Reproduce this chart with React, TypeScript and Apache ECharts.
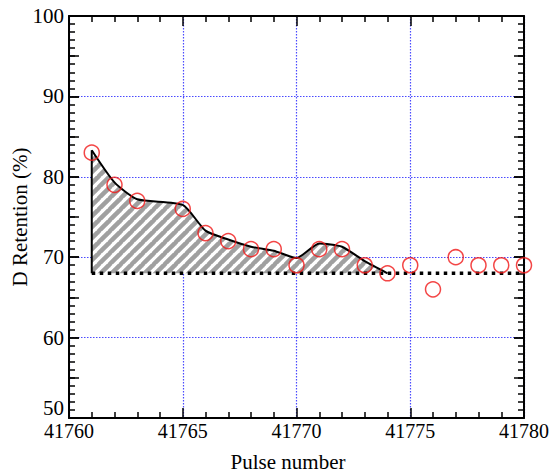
import React, { useEffect, useRef } from "react";
import * as echarts from "echarts";

const pulses = [41761, 41762, 41763, 41765, 41766, 41767, 41768, 41769, 41770, 41771, 41772, 41773, 41774, 41775, 41776, 41777, 41778, 41779, 41780];
const retention = [83, 79, 77, 76, 73, 72, 71, 71, 69, 71, 71, 69, 68, 69, 66, 70, 69, 69, 69];

const fitPulses = [41761, 41762, 41763, 41765, 41766, 41767, 41768, 41769, 41770, 41771, 41772, 41773, 41774];
const fitValues = [83.3, 79.3, 77.2, 76.5, 73.3, 72.2, 71.3, 70.8, 69.9, 71.7, 71.3, 69.5, 68];

const baselineValue = 68;
const baselineRange = [41761, 41780];

const xTicks = { min: 41760, max: 41780, interval: 5 };
const yTicks = { min: 50, max: 100, interval: 10 };

function makeHatch(): HTMLCanvasElement {
  const s = 11;
  const c = document.createElement("canvas");
  c.width = s;
  c.height = s;
  const ctx = c.getContext("2d")!;
  ctx.fillStyle = "#ffffff";
  ctx.fillRect(0, 0, s, s);
  ctx.strokeStyle = "#a0a0a0";
  ctx.lineWidth = 4.5;
  for (const k of [-s, 0, s]) {
    ctx.beginPath();
    ctx.moveTo(k - 1, s + 1);
    ctx.lineTo(k + s + 1, -1);
    ctx.stroke();
  }
  return c;
}

export default function App() {
  const ref = useRef<HTMLDivElement>(null);
  useEffect(() => {
    const chart = echarts.init(ref.current!, null, { renderer: "svg" });
    const font = "Liberation Serif";
    const grid = "#4a4aff";
    const tickCommon = {
      axisLine: { show: true, onZero: false, lineStyle: { color: "#000", width: 2 } },
      axisTick: { show: true, inside: true, length: 10, lineStyle: { color: "#000", width: 1.5 } },
    };
    const option: any = {
      animation: false,
      backgroundColor: "#fff",
      grid: { left: 69, right: 28, top: 16, bottom: 56, containLabel: false },
      xAxis: [
        {
          type: "value",
          position: "bottom",
          ...xTicks,
          ...tickCommon,
          minorTick: { show: true, splitNumber: 5, length: 6, lineStyle: { color: "#000", width: 1.5 } },
          splitLine: { show: true, lineStyle: { color: grid, type: [1.5, 1.5], width: 1.2 } },
          axisLabel: { color: "#000", fontFamily: font, fontSize: 20, margin: 3, formatter: (v: number) => String(v) },
        },
        {
          type: "value",
          position: "top",
          ...xTicks,
          ...tickCommon,
          minorTick: { show: true, splitNumber: 5, length: 6, lineStyle: { color: "#000", width: 1.5 } },
          splitLine: { show: false },
          axisLabel: { show: false },
        },
      ],
      yAxis: [
        {
          type: "value",
          position: "left",
          ...yTicks,
          ...tickCommon,
          minorTick: { show: true, splitNumber: 10, length: 6, lineStyle: { color: "#000", width: 1.5 } },
          splitLine: { show: true, lineStyle: { color: grid, type: [1.5, 1.5], width: 1.2 } },
          axisLabel: {
            color: "#000",
            fontFamily: font,
            fontSize: 21,
            margin: 5,
            verticalAlignMinLabel: "bottom",
          },
        },
        {
          type: "value",
          position: "left",
          min: 50,
          max: 100,
          interval: 5,
          axisLine: { show: false },
          axisTick: { show: true, inside: true, length: 10, lineStyle: { color: "#000", width: 1.5 } },
          splitLine: { show: false },
          axisLabel: { show: false },
        },
        {
          type: "value",
          position: "right",
          ...yTicks,
          ...tickCommon,
          minorTick: { show: true, splitNumber: 10, length: 6, lineStyle: { color: "#000", width: 1.5 } },
          splitLine: { show: false },
          axisLabel: { show: false },
        },
        {
          type: "value",
          position: "right",
          min: 50,
          max: 100,
          interval: 5,
          axisLine: { show: false },
          axisTick: { show: true, inside: true, length: 10, lineStyle: { color: "#000", width: 1.5 } },
          splitLine: { show: false },
          axisLabel: { show: false },
        },
      ],
      graphic: [
        {
          type: "text",
          x: 20,
          y: 217,
          rotation: Math.PI / 2,
          style: {
            text: "D Retention (%)",
            fontFamily: font,
            fontSize: 21,
            fill: "#000",
            textAlign: "center",
            textVerticalAlign: "middle",
          },
        },
        {
          type: "text",
          x: 288,
          y: 462,
          style: {
            text: "Pulse number",
            fontFamily: font,
            fontSize: 21,
            fill: "#000",
            textAlign: "center",
            textVerticalAlign: "middle",
          },
        },
      ],
      series: [
        {
          type: "line",
          xAxisIndex: 0,
          yAxisIndex: 0,
          data: fitPulses.map((p, i) => [p, fitValues[i]]),
          symbol: "none",
          smooth: 0.2,
          lineStyle: { color: "#000", width: 2 },
          areaStyle: {
            origin: baselineValue,
            color: { image: makeHatch(), repeat: "repeat" },
            opacity: 1,
          },
          z: 2,
        },
        {
          type: "line",
          xAxisIndex: 0,
          yAxisIndex: 0,
          data: [
            [fitPulses[0], baselineValue],
            [fitPulses[0], fitValues[0]],
          ],
          symbol: "none",
          lineStyle: { color: "#000", width: 2 },
          z: 3,
        },
        {
          type: "line",
          xAxisIndex: 0,
          yAxisIndex: 0,
          data: baselineRange.map((p) => [p, baselineValue]),
          symbol: "none",
          lineStyle: { color: "#000", width: 3.5, type: [3.5, 4.5] },
          z: 3,
        },
        {
          type: "scatter",
          xAxisIndex: 0,
          yAxisIndex: 0,
          data: pulses.map((p, i) => [p, retention[i]]),
          symbol: "circle",
          symbolSize: 15,
          clip: false,
          itemStyle: { color: "rgba(255,255,255,0)", borderColor: "#f01818", borderWidth: 1.5 },
          z: 5,
        },
      ],
    };
    chart.setOption(option);
    return () => chart.dispose();
  }, []);
  return <div ref={ref} style={{ width: 552, height: 474, position: "absolute", left: 0, top: 0 }} />;
}
